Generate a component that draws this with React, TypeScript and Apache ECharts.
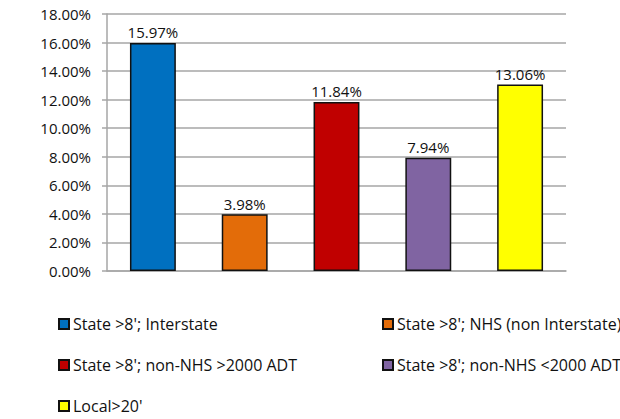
import React, { useEffect, useRef } from "react";
import * as echarts from "echarts";

const categories = [
  "State >8'; Interstate",
  "State >8'; NHS (non Interstate)",
  "State >8'; non-NHS >2000 ADT",
  "State >8'; non-NHS <2000 ADT",
  "Local>20'",
];
const values = [15.97, 3.98, 11.84, 7.94, 13.06];
const colors = ["#0070C0", "#E36C09", "#C00000", "#8064A2", "#FFFF00"];
const yTicks = [0, 2, 4, 6, 8, 10, 12, 14, 16, 18];

const legendPos = [
  { left: 58, top: 316 },
  { left: 382, top: 316 },
  { left: 58, top: 357 },
  { left: 382, top: 357 },
  { left: 58, top: 398 },
];

export default function App() {
  const ref = useRef<HTMLDivElement>(null);
  useEffect(() => {
    if (!ref.current) return;
    const chart = echarts.init(ref.current, null, { renderer: "svg" });
    const font = "'Open Sans', sans-serif";
    const series = categories.map((name, i) => ({
      name,
      type: "bar",
      barWidth: "50%",
      barGap: "-100%",
      data: categories.map((_, j) => (j === i ? values[i] : "-")),
      itemStyle: { color: colors[i], borderColor: "#111", borderWidth: 1.5 },
      label: {
        show: true,
        position: "top",
        distance: 3,
        formatter: (p: any) => `${Number(p.value).toFixed(2)}%`,
        fontFamily: font,
        fontSize: 15,
        color: "#111",
      },
    }));
    chart.setOption({
      animation: false,
      grid: { left: 107, right: 54, top: 14, bottom: 148 },
      xAxis: {
        type: "category",
        data: categories,
        axisLine: { show: true, lineStyle: { color: "#a6a6a6", width: 1.5 } },
        axisTick: { show: false },
        axisLabel: { show: false },
      },
      yAxis: {
        type: "value",
        min: yTicks[0],
        max: yTicks[yTicks.length - 1],
        interval: 2,
        axisLine: { show: true, lineStyle: { color: "#a6a6a6", width: 1.5 } },
        axisTick: { show: true, length: 5, lineStyle: { color: "#a6a6a6", width: 1.5 } },
        splitLine: { lineStyle: { color: "#a6a6a6", width: 1.5 } },
        axisLabel: {
          margin: 16,
          formatter: (v: number) => `${v.toFixed(2)}%`,
          fontFamily: font,
          fontSize: 15,
          color: "#111",
        },
      },
      legend: categories.map((name, i) => ({
        data: [name],
        left: legendPos[i].left,
        top: legendPos[i].top,
        icon: "rect",
        itemWidth: 10,
        itemHeight: 10,
        itemGap: 4,
        textStyle: { fontFamily: font, fontSize: 16, color: "#111", padding: [0, 0, 0, -1] },
        padding: 0,
        selectedMode: false,
      })),
      series,
    });
    return () => chart.dispose();
  }, []);
  return <div ref={ref} style={{ width: 620, height: 419, position: "absolute", left: 0, top: 0 }} />;
}
